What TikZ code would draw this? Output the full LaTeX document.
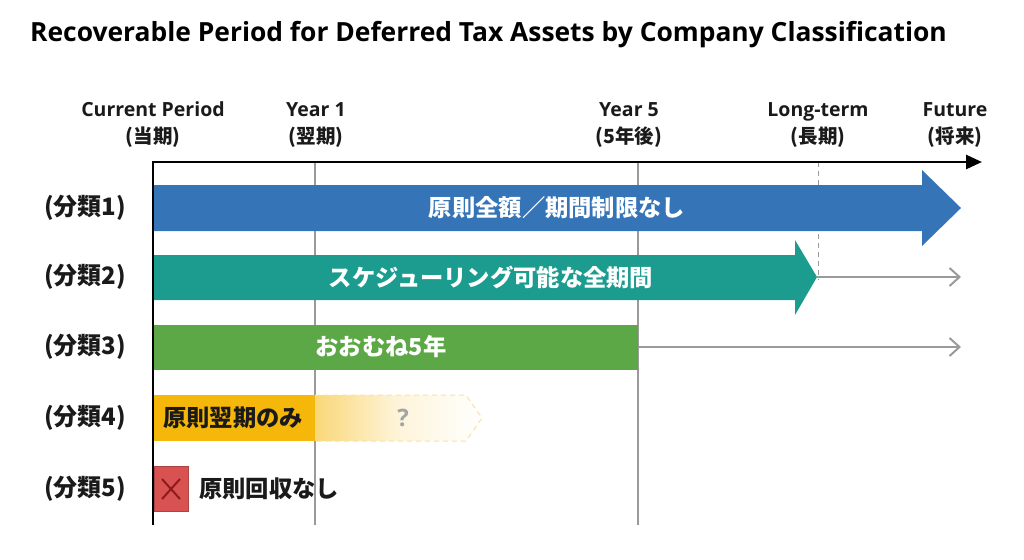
\documentclass[tikz,border=0pt]{standalone}
\usepackage{fontspec}
\setmainfont{Open Sans}
\newfontfamily\jp{Noto Sans CJK JP}
\usetikzlibrary{arrows.meta}
\definecolor{cblue}{HTML}{3474B7}
\definecolor{cteal}{HTML}{1B9C8F}
\definecolor{cgreen}{HTML}{5DA846}
\definecolor{cyellow}{HTML}{F5B70A}
\definecolor{cred}{HTML}{D85252}
\definecolor{cdred}{HTML}{8E1B1B}
\definecolor{cgrid}{HTML}{9A9A9A}
\definecolor{ctext}{HTML}{1A1A1A}
\tikzset{
  coltext/.style={align=center, font=\fontsize{19.5}{27}\selectfont\bfseries, text=ctext, inner sep=0pt},
  rowlab/.style={font=\jp\fontsize{24}{28}\selectfont\bfseries, text=ctext, inner sep=0pt},
  bartext/.style={font=\jp\fontsize{23.3}{26}\selectfont\bfseries, text=white, inner sep=0pt},
  grid/.style={draw=cgrid, line width=1.3pt},
  grayarrow/.style={draw=cgrid, line width=2pt, -{Straight Barb[length=10pt,width=18pt,line width=2pt]}},
}
\begin{document}
\begin{tikzpicture}[x=1pt,y=-1pt]
\useasboundingbox (0,0) rectangle (1024,559);
% title
\node[anchor=west, font=\fontsize{26.4}{30}\selectfont\bfseries, text=black, inner sep=0pt] (title) at (30,35) {Recoverable Period for Deferred Tax Assets by Company Classification};
% column headers
\node[coltext] (c0) at (153,125) {Current Period\\{\jp\fontsize{19.5}{27}\selectfont (当期)}};
\node[coltext] (c1) at (316,125) {Year 1\\{\jp\fontsize{19.5}{27}\selectfont (翌期)}};
\node[coltext] (c5) at (629,125) {Year 5\\{\jp\fontsize{19.5}{27}\selectfont (5年後)}};
\node[coltext] (cl) at (818,125) {Long-term\\{\jp\fontsize{19.5}{27}\selectfont (長期)}};
\node[coltext] (cf) at (955,125) {Future\\{\jp\fontsize{19.5}{27}\selectfont (将来)}};
% grid lines
\coordinate (g1t) at (315,162); \coordinate (g1b) at (315,525);
\coordinate (g5t) at (638,162); \coordinate (g5b) at (638,525);
\coordinate (glt) at (818,162); \coordinate (glb) at (818,280);
\draw[grid] (g1t) -- (g1b);
\draw[grid] (g5t) -- (g5b);
\draw[draw=cgrid, line width=1pt, dash pattern=on 5pt off 4pt] (glt) -- (glb);
% row1
\fill[cblue] (153,185) -- (922,185) -- (922,170) -- (961,208) -- (922,246) -- (922,231) -- (153,231) -- cycle;
% row2
\fill[cteal] (153,255) -- (795,255) -- (795,240) -- (817,277) -- (795,315) -- (795,300) -- (153,300) -- cycle;
\coordinate (t2) at (817,277); \coordinate (e2) at (961,277);
\draw[grayarrow] (t2) -- (e2);
% row3
\fill[cgreen] (153,325) rectangle (638,370);
\coordinate (t3) at (638,347); \coordinate (e3) at (961,347);
\draw[grayarrow] (t3) -- (e3);
% row4
\shade[left color=cyellow!55, right color=white, middle color=cyellow!15] (315,395) -- (466,395) -- (482,418) -- (466,441) -- (315,441) -- cycle;
\draw[draw=cyellow!40, line width=1pt, dash pattern=on 5pt off 4pt] (315,395) -- (466,395) -- (482,418) -- (466,441) -- (315,441);
\fill[cyellow] (153,395) rectangle (315,441);
% row5
\draw[fill=cred, draw=cred!80!black, line width=0.6pt] (154,466) rectangle (188,511);
\draw[cdred, line width=2pt] (162,479) -- (180,499) (180,479) -- (162,499);
% axes
\coordinate (o) at (153,162); \coordinate (ax) at (982,162); \coordinate (ay) at (153,525);
\draw[black, line width=2.6pt] (ay) -- (o);
\draw[black, line width=2.6pt, -{Triangle[length=16pt,width=14pt]}] ([xshift=-1.3pt]o) -- (ax);
% bar texts
\node[bartext] (b1) at (557,208) {原則全額／期間制限なし};
\node[bartext] (b2) at (491,277) {スケジューリング可能な全期間};
\node[bartext] (b3) at (381,347) {おおむね5年};
\node[bartext, text=ctext, anchor=west] (b4) at (163,418) {原則翌期のみ};
\node[font=\fontsize{24}{26}\selectfont\bfseries, text=cgrid!90, inner sep=0pt] (q) at (403,418) {?};
\node[bartext, text=ctext, anchor=west] (b5) at (199,489) {原則回収なし};
% row labels
\node[rowlab] (r1) at (85,208) {(分類1)};
\node[rowlab] (r2) at (85,277) {(分類2)};
\node[rowlab] (r3) at (85,347) {(分類3)};
\node[rowlab] (r4) at (85,418) {(分類4)};
\node[rowlab] (r5) at (85,489) {(分類5)};
\end{tikzpicture}
\end{document}
